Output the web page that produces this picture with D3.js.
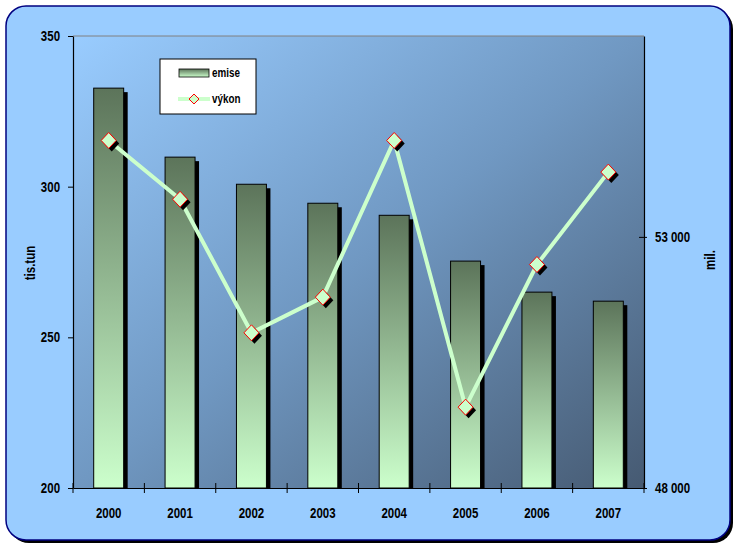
<!DOCTYPE html>
<html>
<head>
<meta charset="utf-8">
<script src="https://cdn.jsdelivr.net/npm/d3@7"></script>
<style>
  body { margin: 0; background: #fff; }
  text { font-family: 'Liberation Sans Narrow', 'Arial Narrow', 'Liberation Sans', Arial, sans-serif; font-weight: bold; fill: #000; }
</style>
</head>
<body>
<svg id="chart" width="738" height="549"></svg>
<script>
// data
const years = ["2000", "2001", "2002", "2003", "2004", "2005", "2006", "2007"];
const emise = [332.7, 309.8, 300.8, 294.5, 290.5, 275.3, 265.0, 262.0];   // tis.tun (left axis)
const vykon = [54920, 53750, 51090, 51800, 54920, 49610, 52450, 54290];  // mil. (right axis)
const leftTicks = [200, 250, 300, 350];
const rightTicks = [48000, 53000];

const svg = d3.select("#chart");

// plot area box
const plotLeft = 73, plotRight = 644, plotTop = 36, plotBottom = 488;

const x = d3.scaleBand().domain(years).range([plotLeft, plotRight]);
const yL = d3.scaleLinear().domain([200, 350]).range([plotBottom, plotTop]);
const yR = d3.scaleLinear().domain([48000, 57000]).range([plotBottom, plotTop]);

const fmt = d3.formatLocale({ decimal: ",", thousands: " ", grouping: [3], currency: ["", ""] }).format(",d");

// gradients
const defs = svg.append("defs");
const plotGrad = defs.append("linearGradient")
    .attr("id", "plotGrad")
    .attr("x1", 0).attr("y1", 0).attr("x2", 1).attr("y2", 1);
plotGrad.append("stop").attr("offset", 0).attr("stop-color", "#99ccff");
plotGrad.append("stop").attr("offset", 0.5).attr("stop-color", "#7098c2");
plotGrad.append("stop").attr("offset", 1).attr("stop-color", "#465a72");

const barGrad = defs.append("linearGradient")
    .attr("id", "barGrad")
    .attr("x1", 0).attr("y1", 0).attr("x2", 0).attr("y2", 1);
barGrad.append("stop").attr("offset", 0).attr("stop-color", "#5c745a");
barGrad.append("stop").attr("offset", 1).attr("stop-color", "#ccffcc");

// chart frame with shadow
svg.append("rect")
    .attr("x", 9).attr("y", 9).attr("width", 724).attr("height", 534)
    .attr("rx", 20).attr("fill", "#000");
svg.append("rect")
    .attr("x", 6).attr("y", 6).attr("width", 724).attr("height", 534)
    .attr("rx", 20)
    .attr("fill", "#99ccff")
    .attr("stroke", "#000080")
    .attr("stroke-width", 1.5);

// plot area
svg.append("rect")
    .attr("x", plotLeft).attr("y", plotTop)
    .attr("width", plotRight - plotLeft).attr("height", plotBottom - plotTop)
    .attr("fill", "url(#plotGrad)");
svg.append("line")
    .attr("x1", plotLeft).attr("x2", plotRight)
    .attr("y1", yL(350)).attr("y2", yL(350))
    .attr("stroke", "#808080");

// bars
const barW = x.bandwidth() * 0.42;
const shadow = 4;

svg.append("g")
    .selectAll("rect")
    .data(emise)
    .join("rect")
    .attr("x", (d, i) => x(years[i]) + (x.bandwidth() - barW) / 2 + shadow)
    .attr("y", d => yL(d) + shadow)
    .attr("width", barW)
    .attr("height", d => yL(200) - yL(d) - shadow)
    .attr("fill", "#000");

svg.append("g")
    .selectAll("rect")
    .data(emise)
    .join("rect")
    .attr("x", (d, i) => x(years[i]) + (x.bandwidth() - barW) / 2)
    .attr("y", d => yL(d))
    .attr("width", barW)
    .attr("height", d => yL(200) - yL(d))
    .attr("fill", "url(#barGrad)")
    .attr("stroke", "#000")
    .attr("stroke-width", 1);

// axes
const gL = svg.append("g")
    .attr("transform", `translate(${plotLeft},0)`)
    .call(d3.axisLeft(yL).tickValues(leftTicks).tickSize(5).tickSizeOuter(0).tickPadding(8));

const gR = svg.append("g")
    .attr("transform", `translate(${plotRight},0)`)
    .call(d3.axisRight(yR).tickValues(rightTicks).tickFormat(fmt).tickSize(3).tickSizeOuter(0).tickPadding(8));
gR.selectAll(".tick line").attr("x1", -5);

const gX = svg.append("g")
    .attr("transform", `translate(0,${plotBottom})`)
    .call(d3.axisBottom(x).tickSize(0).tickPadding(20));
gX.selectAll(".tick text").attr("dy", "0.71em");

// category boundary ticks on x axis
svg.append("g")
    .selectAll("line")
    .data(years.concat(["end"]))
    .join("line")
    .attr("x1", (d, i) => plotLeft + i * x.step())
    .attr("x2", (d, i) => plotLeft + i * x.step())
    .attr("y1", plotBottom - 5)
    .attr("y2", plotBottom + 5)
    .attr("stroke", "#000");

[gL, gR, gX].forEach(g => {
    g.select(".domain").attr("stroke", "#000").attr("stroke-width", 1.2);
    g.selectAll(".tick line").attr("stroke", "#000");
    g.selectAll(".tick text")
        .attr("font-size", 14)
        .attr("font-family", null)
        .attr("fill", "#000");
});

// výkon line
const line = d3.line()
    .x((d, i) => x(years[i]) + x.bandwidth() / 2)
    .y(d => yR(d));

svg.append("path")
    .datum(vykon)
    .attr("d", line)
    .attr("fill", "none")
    .attr("stroke", "#ccffcc")
    .attr("stroke-width", 4);

const diamond = "M0,-8L7.5,0L0,8L-7.5,0Z";

svg.append("g")
    .selectAll("path")
    .data(vykon)
    .join("path")
    .attr("d", diamond)
    .attr("transform", (d, i) => `translate(${x(years[i]) + x.bandwidth() / 2 + 3},${yR(d) + 3})`)
    .attr("fill", "#000");

svg.append("g")
    .selectAll("path")
    .data(vykon)
    .join("path")
    .attr("d", diamond)
    .attr("transform", (d, i) => `translate(${x(years[i]) + x.bandwidth() / 2},${yR(d)})`)
    .attr("fill", "#ccffcc")
    .attr("stroke", "#ff0000")
    .attr("stroke-width", 1);

// axis titles
svg.append("text")
    .attr("transform", "translate(35,263) rotate(-90)")
    .attr("text-anchor", "middle")
    .attr("font-size", 14)
    .text("tis.tun");

svg.append("text")
    .attr("transform", "translate(715,260) rotate(-90)")
    .attr("text-anchor", "middle")
    .attr("font-size", 14)
    .text("mil.");

// legend
const legend = svg.append("g").attr("transform", "translate(160,59)");
legend.append("rect")
    .attr("width", 96).attr("height", 55)
    .attr("fill", "#fff")
    .attr("stroke", "#000");
legend.append("rect")
    .attr("x", 19).attr("y", 10).attr("width", 30).attr("height", 8)
    .attr("fill", "url(#barGrad)")
    .attr("stroke", "#000")
    .attr("stroke-width", 0.8);
legend.append("text")
    .attr("x", 52).attr("y", 18)
    .attr("font-size", 12)
    .text("emise");
legend.append("line")
    .attr("x1", 18).attr("x2", 50).attr("y1", 40).attr("y2", 40)
    .attr("stroke", "#ccffcc").attr("stroke-width", 4);
legend.append("path")
    .attr("d", "M0,-5L5,0L0,5L-5,0Z")
    .attr("transform", "translate(34,40)")
    .attr("fill", "#ccffcc")
    .attr("stroke", "#ff0000");
legend.append("text")
    .attr("x", 52).attr("y", 44)
    .attr("font-size", 12)
    .text("výkon");

// squeeze the text a bit, the original uses a narrow bold face
svg.selectAll("text").each(function () {
    const w = this.getComputedTextLength();
    d3.select(this)
        .attr("textLength", w * 0.82)
        .attr("lengthAdjust", "spacingAndGlyphs");
});
</script>
</body>
</html>
